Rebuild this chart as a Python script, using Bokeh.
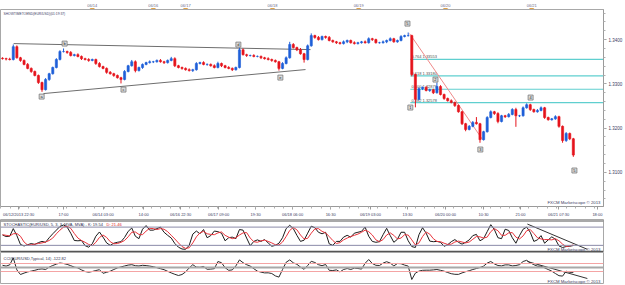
import numpy as np
from bokeh.plotting import figure
from bokeh.models import Range1d, FixedTicker, Label, Span, NumeralTickFormatter
from bokeh.layouts import column
from bokeh.embed import file_html
from bokeh.resources import INLINE
from bokeh.core.properties import value

# ---------------- data ----------------
first_open = 1.3358
close = [
    1.3357, 1.3356, 1.3355, 1.3384, 1.3359, 1.3353, 1.3344, 1.3335, 1.3328, 1.3319,
    1.3303, 1.3287, 1.3310, 1.3323, 1.3337, 1.3355, 1.3373, 1.3373, 1.3371, 1.3364,
    1.3366, 1.3362, 1.3357, 1.3355, 1.3353, 1.3355, 1.3346, 1.3339, 1.3335, 1.3326,
    1.3323, 1.3319, 1.3314, 1.3310, 1.3328, 1.3341, 1.3350, 1.3330, 1.3337, 1.3344,
    1.3348, 1.3350, 1.3350, 1.3353, 1.3350, 1.3348, 1.3353, 1.3357, 1.3341, 1.3337,
    1.3335, 1.3332, 1.3330, 1.3332, 1.3346, 1.3348, 1.3344, 1.3344, 1.3341, 1.3337,
    1.3346, 1.3341, 1.3337, 1.3335, 1.3332, 1.3337, 1.3377, 1.3366, 1.3364, 1.3364,
    1.3362, 1.3362, 1.3359, 1.3357, 1.3355, 1.3353, 1.3350, 1.3335, 1.3346, 1.3359,
    1.3389, 1.3382, 1.3377, 1.3368, 1.3355, 1.3386, 1.3409, 1.3405, 1.3400, 1.3407,
    1.3405, 1.3398, 1.3395, 1.3393, 1.3391, 1.3395, 1.3398, 1.3393, 1.3391, 1.3393,
    1.3395, 1.3393, 1.3402, 1.3400, 1.3393, 1.3393, 1.3395, 1.3398, 1.3402, 1.3395,
    1.3398, 1.3407, 1.3409, 1.3409, 1.3321, 1.3265, 1.3289, 1.3292, 1.3285, 1.3287,
    1.3280, 1.3294, 1.3276, 1.3267, 1.3262, 1.3258, 1.3251, 1.3237, 1.3210, 1.3197,
    1.3204, 1.3213, 1.3210, 1.3174, 1.3192, 1.3224, 1.3237, 1.3233, 1.3215, 1.3228,
    1.3226, 1.3231, 1.3242, 1.3228, 1.3228, 1.3246, 1.3253, 1.3242, 1.3237, 1.3240,
    1.3246, 1.3224, 1.3219, 1.3221, 1.3226, 1.3204, 1.3172, 1.3188, 1.3176, 1.31392,
]
wick_up_pips = [
    2, 2, 3, 5, 3, 2, 2, 3, 2, 2,
    2, 2, 3, 2, 2, 3, 3, 7, 2, 3,
    2, 3, 2, 2, 3, 2, 2, 3, 2, 2,
    3, 2, 2, 2, 3, 2, 4, 3, 2, 2,
    2, 3, 2, 2, 3, 2, 2, 4, 3, 2,
    2, 2, 3, 2, 3, 2, 3, 2, 2, 3,
    4, 2, 2, 3, 2, 2, 5, 3, 2, 2,
    3, 2, 2, 2, 3, 2, 2, 2, 3, 3,
    6, 3, 2, 4, 2, 3, 5, 2, 3, 2,
    2, 3, 2, 2, 2, 3, 2, 2, 3, 2,
    2, 3, 3, 2, 2, 2, 3, 2, 3, 2,
    2, 3, 2, 7, 2, 2, 3, 2, 3, 2,
    2, 9, 3, 2, 2, 3, 2, 2, 2, 2,
    3, 3, 12, 2, 2, 3, 3, 2, 3, 2,
    2, 3, 3, 4, 2, 3, 3, 2, 2, 3,
    3, 2, 2, 2, 3, 2, 2, 3, 2, 2,
]
wick_dn_pips = [
    2, 3, 2, 2, 2, 3, 2, 2, 3, 2,
    3, 5, 2, 3, 2, 2, 2, 2, 3, 2,
    2, 2, 3, 2, 3, 2, 3, 2, 2, 3,
    2, 3, 2, 9, 2, 2, 2, 4, 2, 3,
    2, 2, 3, 2, 2, 3, 2, 2, 3, 2,
    3, 2, 2, 3, 2, 2, 2, 3, 2, 2,
    2, 3, 2, 2, 3, 2, 2, 2, 3, 2,
    2, 2, 3, 2, 2, 3, 2, 5, 2, 2,
    2, 2, 3, 2, 7, 2, 2, 3, 2, 2,
    3, 2, 2, 3, 2, 2, 3, 2, 2, 2,
    2, 2, 2, 3, 2, 2, 2, 3, 2, 2,
    2, 2, 2, 2, 4, 18, 2, 3, 2, 3,
    3, 2, 2, 3, 2, 2, 3, 2, 3, 4,
    2, 2, 2, 7, 2, 2, 2, 3, 4, 2,
    3, 2, 2, 25, 3, 2, 2, 3, 2, 2,
    2, 3, 2, 2, 2, 3, 5, 3, 3, 4,
]
stoch_k = [
    54, 49, 50, 75, 52, 23, 18, 22, 26, 23,
    29, 33, 30, 45, 58, 70, 82, 87, 80, 60,
    36, 35, 36, 19, 14, 25, 50, 64, 47, 28,
    20, 27, 30, 32, 46, 66, 77, 50, 42, 73,
    85, 70, 70, 75, 80, 63, 53, 44, 26, 14,
    8, 7, 20, 57, 67, 58, 72, 45, 52, 67,
    65, 60, 35, 45, 47, 42, 72, 70, 44, 19,
    33, 38, 33, 39, 28, 17, 20, 27, 45, 75,
    86, 75, 53, 33, 37, 60, 83, 78, 63, 58,
    63, 25, 20, 33, 33, 47, 53, 47, 60, 63,
    66, 80, 50, 33, 30, 32, 55, 76, 52, 30,
    40, 63, 63, 35, 16, 13, 55, 78, 60, 34,
    32, 33, 30, 17, 22, 32, 39, 30, 24, 30,
    38, 52, 56, 35, 42, 65, 88, 72, 45, 42,
    73, 69, 45, 27, 52, 73, 80, 63, 33, 38,
    52, 27, 38, 48, 40, 18, 13, 16, 17, 19.54,
]
stoch_d = [
    55, 53, 51, 58, 59, 50, 31, 21, 22, 24,
    26, 28, 31, 36, 44, 58, 70, 80, 83, 76,
    59, 44, 36, 30, 23, 19, 30, 46, 54, 46,
    32, 25, 26, 30, 36, 48, 63, 64, 56, 55,
    67, 76, 75, 72, 75, 73, 65, 53, 41, 28,
    16, 10, 12, 28, 48, 61, 66, 58, 56, 55,
    61, 64, 53, 47, 42, 45, 54, 61, 62, 44,
    32, 30, 35, 37, 33, 28, 22, 21, 31, 49,
    69, 79, 71, 54, 41, 43, 60, 74, 75, 66,
    61, 49, 36, 26, 29, 38, 44, 49, 53, 57,
    63, 70, 65, 54, 38, 32, 39, 54, 61, 53,
    41, 44, 55, 54, 38, 21, 28, 49, 64, 57,
    42, 33, 32, 27, 23, 24, 31, 34, 31, 28,
    31, 40, 49, 48, 44, 47, 65, 75, 68, 53,
    53, 61, 62, 47, 41, 51, 68, 72, 59, 45,
    41, 39, 39, 38, 42, 35, 24, 16, 18, 21.46,
]
cci = [
    55, 35, 65, 240, -60, -175, -140, -110, -90, -70,
    -45, -35, -50, 10, 50, 85, 112, 100, 78, 45,
    10, -10, -60, -100, -117, -100, -75, -55, -145, -120,
    -92, -50, -10, 15, 38, 60, 70, 45, 38, 55,
    48, 35, 20, -5, -30, -55, -95, -135, -170, -200,
    -175, -110, -10, 70, 10, 5, 25, -45, -40, -30,
    150, 120, -5, -70, -60, 40, 190, 120, 70, 35,
    -30, -92, -115, -135, -133, -150, -210, -240, -50, 130,
    190, 117, 80, 10, -45, 50, 155, 125, 70, 45,
    75, -70, -75, -60, -110, -50, -25, -50, -15, -25,
    -40, 105, 200, 100, 55, 50, 110, 145, 110, 40,
    100, 95, 60, 35, -300, -140, -90, -70, -67, -67,
    -60, -50, -70, -92, -125, -155, -170, -172, -135, -105,
    -80, -50, -25, 0, 35, 110, 150, 90, 50, 40,
    65, 65, 40, 50, 70, 150, 180, 117, 70, 33,
    33, -10, -50, -92, -150, -205, -215, -92, -120, -122.82,
]

date_pos = [25, 42, 51, 75.2, 99.2, 123.4, 147.4]
date_labels = ["06/14", "06/16", "06/17", "06/18", "06/19", "06/20", "06/21"]

time_pos = [4.5, 17, 28, 39.3, 49.6, 60.2, 70.5, 80.8, 91.4, 102.5, 112.8, 123.4, 134, 144.3, 154.9, 165.7]
time_labels = ["06/12/2013 22:30", "17:00", "06/14 03:00", "14:00", "06/16 22:30", "06/17 09:00",
               "19:30", "06/18 06:00", "16:30", "06/19 03:00", "13:30", "06/20 00:00", "10:30",
               "21:00", "06/21 07:30", "18:00"]

price_ticks = [1.31, 1.32, 1.33, 1.34]
last_price = 1.31392

fib_levels = [1.33553, 1.33180, 1.32879, 1.32578]
fib_labels = ["0.764 1.33553", "0.618 1.33180", "0.500 1.32879", "0.382 1.32578"]
fib_start = 113.6

tri_upper_x, tri_upper_y = [3.1, 85.8], [1.3391, 1.33774]
tri_lower_x, tri_lower_y = [11.4, 84.4], [1.32781, 1.33323]
drop_x, drop_y = [113.4, 133.7], [1.34135, 1.31743]

wave_x = [10.9, 17.3, 33.7, 65.7, 77.4, 112.8, 113.6, 120.6, 133.1, 147.1, 159.3]
wave_y = [1.32713, 1.3391, 1.32871, 1.33887, 1.33142, 1.34361, 1.32465, 1.33097, 1.31517, 1.32691, 1.31043]
wave_txt = ["a", "b", "c", "d", "e", "5", "1", "2", "3", "4", "5"]

stoch_levels = [100, 80, 20, 0]
stoch_tl_x, stoch_tl_y = [146.2, 162.9], [90, 7]
cci_levels = [100, 0, -100]
cci_tl_x, cci_tl_y = [146.2, 162.9], [150, -275]

# ---------------- derived candle arrays ----------------
idx = np.arange(len(close))
c = np.array(close)
o = np.concatenate([[first_open], c[:-1]])
hi = np.maximum(o, c) + np.array(wick_up_pips) * 0.0001
lo = np.minimum(o, c) - np.array(wick_dn_pips) * 0.0001
up = c >= o
UP_COL, DN_COL = "#1f5fd8", "#e5141c"
cols = [UP_COL if u else DN_COL for u in up]
body_top = np.maximum(o, c)
body_bot = np.minimum(o, c)

# ---------------- layout helpers ----------------
FONT = "Liberation Sans"
FW = 603
XR = Range1d(-0.56, 167.4)
TXT = "#3c3c64"


def make_fig(h, yr, xloc=None, yloc=None):
    f = figure(frame_width=FW, frame_height=h, x_range=XR, y_range=yr,
               toolbar_location=None, output_backend="svg",
               x_axis_location=xloc, y_axis_location=yloc,
               min_border_left=0, min_border_right=22, min_border_top=0, min_border_bottom=0)
    f.xgrid.visible = False
    f.ygrid.visible = False
    f.background_fill_color = "white"
    f.border_fill_color = "white"
    f.outline_line_color = "#a8a8a8"
    return f


def small_label(fig, text, x, y, xu="screen", yu="screen", align="left", base="middle",
                color=TXT, bg=None, size="4px"):
    lab = Label(x=x, y=y, x_units=xu, y_units=yu, text=text, text_align=align,
                text_baseline=base, text_color=color, text_font=FONT, text_font_size=size)
    if bg is not None:
        lab.background_fill_color = bg
    fig.add_layout(lab)


# ---------------- date strip ----------------
top = make_fig(9, Range1d(0, 1))
top.outline_line_color = None
strip_ticks = np.arange(0.0, 167.4, 3.5)
top.segment(x0=strip_ticks, x1=strip_ticks, y0=0, y1=0.22, line_color="#b4b4b4", line_width=1)
top.text(x=date_pos, y=[0.74] * len(date_pos), text=date_labels, text_align="center",
         text_baseline="middle", text_font=value(FONT), text_font_size="4px", text_color="#6a6a8a")
top.scatter(x=date_pos, y=[0.28] * len(date_pos), marker="inverted_triangle", size=4,
            fill_color="#f0a028", line_color="#d08010")

# ---------------- main price panel ----------------
p = make_fig(197, Range1d(1.3023, 1.3468), xloc="below", yloc="right")
p.outline_line_color = "#a8a8a8"
xa = p.xaxis[0]
xa.ticker = FixedTicker(ticks=time_pos, minor_ticks=list(np.arange(-0.5, 168, 2.625)))
xa.major_label_overrides = {float(t): l for t, l in zip(time_pos, time_labels)}
ya = p.yaxis[0]
ya.ticker = FixedTicker(ticks=price_ticks, minor_ticks=list(np.round(np.arange(1.302, 1.347, 0.002), 4)))
ya.formatter = NumeralTickFormatter(format="0.0000")
for ax in (xa, ya):
    ax.axis_line_color = "#9a9a9a"
    ax.major_tick_line_color = "#9a9a9a"
    ax.minor_tick_line_color = "#b0b0b0"
    ax.major_tick_out = 3
    ax.major_tick_in = 0
    ax.minor_tick_out = 2
    ax.minor_tick_in = 0
    ax.major_label_standoff = 2
    ax.major_label_text_font = FONT
    ax.major_label_text_color = TXT
xa.major_label_text_font_size = "4px"
ya.major_label_text_font_size = "4.5px"

p.segment(x0=fib_start, x1=XR.end, y0=fib_levels, y1=fib_levels, line_color="#5fcfcf", line_width=1.2)
p.text(x=fib_start + 0.3, y=fib_levels, text=fib_labels, text_baseline="bottom",
       text_font=value(FONT), text_font_size="4px", text_color="#505050")
p.line(tri_upper_x, tri_upper_y, line_color="#6e6e6e", line_width=1)
p.line(tri_lower_x, tri_lower_y, line_color="#6e6e6e", line_width=1)
p.line(drop_x, drop_y, line_color="#f08a8a", line_width=1)

p.segment(x0=idx, x1=idx, y0=lo, y1=hi, line_color=cols, line_width=1)
p.vbar(x=idx, width=0.6, top=body_top, bottom=body_bot, fill_color=cols, line_color=cols, line_width=0.6)

p.rect(x=wave_x, y=wave_y, width=5, height=5, width_units="screen", height_units="screen",
       fill_color="#dcdcdc", line_color="#7a7a7a", line_width=0.8)
p.text(x=wave_x, y=wave_y, text=wave_txt, text_align="center", text_baseline="middle",
       text_font=value(FONT), text_font_size="4px", text_color="#222222")

small_label(p, "SHOWTIMETOEND(EUR/USD)(01:19:37)", 3, 195, base="top", size="3.3px")
small_label(p, "FXCM Marketscope \u00a9 2013", FW - 3, 2, align="right", base="bottom", size="4.3px")
small_label(p, "1.31392", FW + 1, last_price, yu="data", color="#202020", bg="#86dcf6", size="4.5px")

# ---------------- stochastic panel ----------------
s = make_fig(33, Range1d(-3.5, 105))
for lv in stoch_levels:
    dark = lv in (0, 100)
    s.add_layout(Span(location=lv, dimension="width", line_color="#555555" if dark else "#8a8aa8",
                      line_width=1.2 if dark else 1))
s.line(idx, stoch_k, line_color="#1a1a1a", line_width=1)
s.line(idx, stoch_d, line_color="#e8343c", line_width=1)
s.line(stoch_tl_x, stoch_tl_y, line_color="#333333", line_width=1)
small_label(s, "STOCHASTIC(EUR/USD, 5, 3, 3, MVA, MVA) - K: 19.54", 3, 31, base="top", color="#303050")
small_label(s, "D: 21.46", 106, 31, base="top", color="#e02020")
small_label(s, "FXCM Marketscope \u00a9 2013", FW - 3, 1, align="right", base="bottom", size="4.3px")
small_label(s, "100", FW + 2, 33, base="top", color="#222222", bg="#cfcfcf")
small_label(s, "80", FW + 2, 80, yu="data", color="#ffffff", bg="#1e2a6e")
small_label(s, "20", FW + 2, 20, yu="data", color="#ffffff", bg="#1e2a6e")
small_label(s, "0", FW + 2, 0, base="bottom", color="#222222")

# ---------------- CCI panel ----------------
q = make_fig(32, Range1d(-425, 375))
for lv in cci_levels:
    q.add_layout(Span(location=lv, dimension="width",
                      line_color="#a8a8a8" if lv == 0 else "#f4a4a4",
                      line_width=2 if lv == 0 else 1.2))
q.line(idx, cci, line_color="#2a2a2a", line_width=1)
q.line(cci_tl_x, cci_tl_y, line_color="#333333", line_width=1)
small_label(q, "CCI(EUR/USD,Typical, 14) -122.82", 3, 29, base="top", color="#303050")
small_label(q, "FXCM Marketscope \u00a9 2013", FW - 3, 1, align="right", base="bottom", size="4.3px")
small_label(q, "100", FW + 2, 100, yu="data", color="#ffffff", bg="#e04848")
small_label(q, "0", FW + 2, 0, yu="data", color="#222222")
small_label(q, "-100", FW + 2, -100, yu="data", color="#ffffff", bg="#e04848")

layout = column(top, p, s, q, spacing=0)
open("out.html", "w").write(file_html(layout, INLINE))
